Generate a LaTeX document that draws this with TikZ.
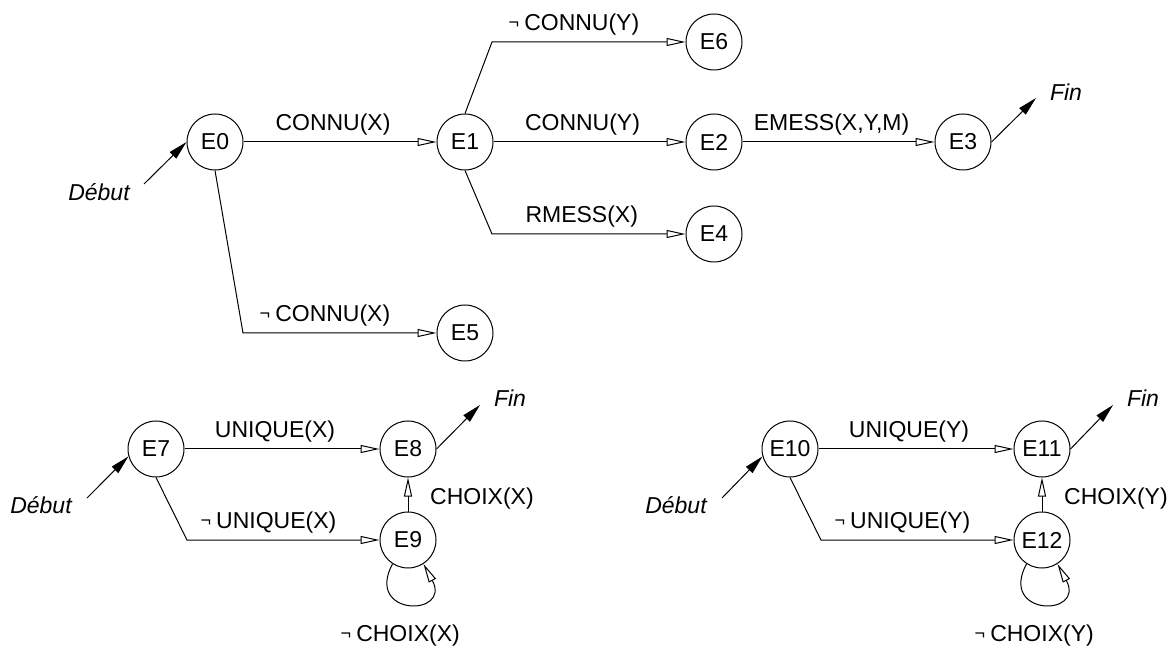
\documentclass[tikz,border=0pt]{standalone}
\usepackage{fontspec}
\setmainfont{Liberation Sans}
\usetikzlibrary{arrows.meta}
\newcommand{\non}{\llap{\raisebox{1pt}{\fontsize{9}{9}\selectfont ¬}\hspace{2.5pt}}}
\begin{document}
\begin{tikzpicture}[x=0.5pt,y=0.5pt,
  every node/.style={font=\fontsize{11.5}{13.8}\selectfont},
  etat/.style={draw,circle,minimum size=28pt,inner sep=0pt,line width=0.5pt},
  fleche/.style={line width=0.5pt,-{Triangle[open,length=9.5pt,width=4pt]}},
  bout/.style={line width=0.5pt,-{Triangle[length=9.5pt,width=4.5pt]}},
  lab/.style={midway,above,xshift=-3.5pt},
  ext/.style={font=\fontsize{11.5}{13.8}\selectfont\itshape}]
  \useasboundingbox (0,0) rectangle (1174,649);
  % premier automate
  \node[etat] (E0) at (215,507) {E0};
  \node[etat] (E1) at (465,507) {E1};
  \node[etat] (E2) at (714,507) {E2};
  \node[etat] (E3) at (963,507) {E3};
  \node[etat] (E6) at (714,607) {E6};
  \node[etat] (E4) at (714,415) {E4};
  \node[etat] (E5) at (465,316) {E5};
  \coordinate (b6) at (492,607);
  \coordinate (b4) at (492,415);
  \coordinate (b5) at (243,316);
  \coordinate (d0) at (144,465);
  \coordinate (f3) at (1036,551);
  \node[ext] (deb0) at (99,457) {Début};
  \node[ext] (fin3) at (1066,557) {Fin};
  \draw[bout] (d0) -- (E0.west);
  \draw[bout] (E3.east) -- (f3);
  \draw[fleche] (E0) -- node[lab] {CONNU(X)} (E1);
  \draw[fleche] (E1) -- node[lab] {CONNU(Y)} (E2);
  \draw[fleche] (E2) -- node[lab] {EMESS(X,Y,M)} (E3);
  \draw[fleche] (E1.north) -- (b6) -- node[lab] {\non CONNU(Y)} (E6);
  \draw[fleche] (E1.south) -- (b4) -- node[lab] {RMESS(X)} (E4);
  \draw[fleche] (E0.south) -- (b5) -- node[lab] {\non CONNU(X)} (E5);
  % choix de X
  \node[etat] (E7) at (156,200) {E7};
  \node[etat] (E8) at (408,200) {E8};
  \node[etat] (E9) at (408,109) {E9};
  \coordinate (b9) at (187,109);
  \coordinate (d7) at (87,151);
  \coordinate (f8) at (480,244);
  \node[ext] (deb7) at (41,144) {Début};
  \node[ext] (fin8) at (510,251) {Fin};
  \draw[bout] (d7) -- (E7.195);
  \draw[bout] (E8.east) -- (f8);
  \draw[fleche] (E7) -- node[lab] {UNIQUE(X)} (E8);
  \draw[fleche] (E7.south) -- (b9) -- node[lab] {\non UNIQUE(X)} (E9);
  \draw[fleche] (E9) -- node[midway,right=7.5pt,yshift=-2pt] {CHOIX(X)} (E8);
  \draw[fleche] (E9.237) .. controls +(-118:60) and +(-62:60) .. (E9.303)
    node[pos=0.5,below=7pt] {\non CHOIX(X)};
  % choix de Y
  \node[etat] (E10) at (790,200) {E10};
  \node[etat] (E11) at (1042,200) {E11};
  \node[etat] (E12) at (1042,109) {E12};
  \coordinate (b12) at (821,109);
  \coordinate (d10) at (722,151);
  \coordinate (f11) at (1113,244);
  \node[ext] (deb10) at (676,144) {Début};
  \node[ext] (fin11) at (1143,251) {Fin};
  \draw[bout] (d10) -- (E10.195);
  \draw[bout] (E11.east) -- (f11);
  \draw[fleche] (E10) -- node[lab] {UNIQUE(Y)} (E11);
  \draw[fleche] (E10.south) -- (b12) -- node[lab] {\non UNIQUE(Y)} (E12);
  \draw[fleche] (E12) -- node[midway,right=7.5pt,yshift=-2pt] {CHOIX(Y)} (E11);
  \draw[fleche] (E12.237) .. controls +(-118:60) and +(-62:60) .. (E12.303)
    node[pos=0.5,below=7pt] {\non CHOIX(Y)};
\end{tikzpicture}
\end{document}
